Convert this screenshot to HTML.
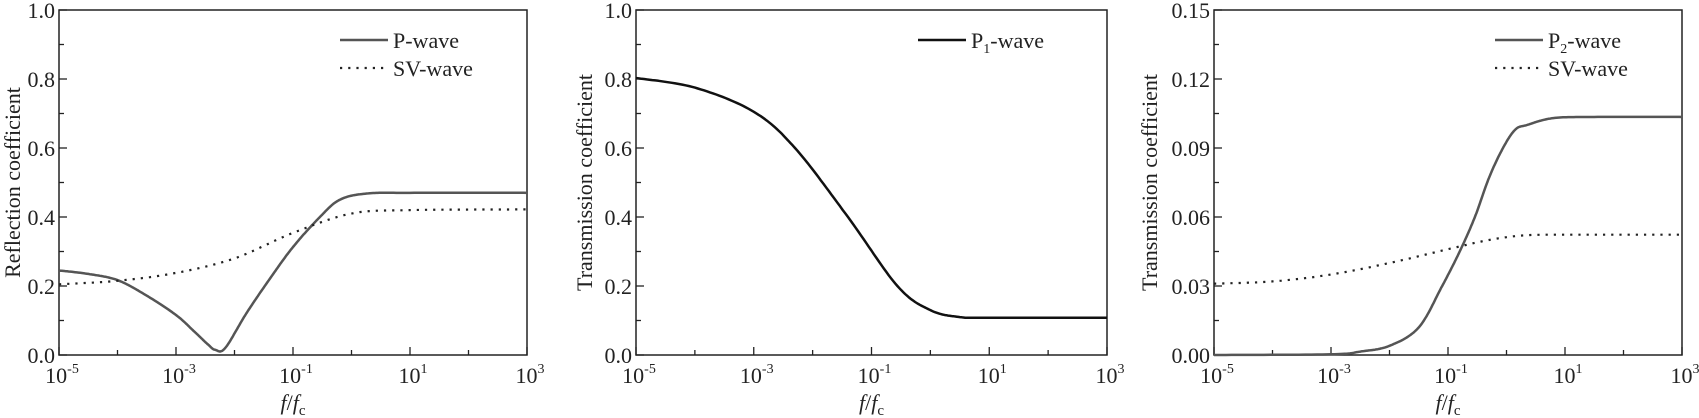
<!DOCTYPE html>
<html><head><meta charset="utf-8"><style>
html,body{margin:0;padding:0;background:#fff;}
svg{display:block;}
text{font-family:"Liberation Serif",serif;fill:#222;}
</style></head><body>
<svg id="s" width="1699" height="418" xmlns="http://www.w3.org/2000/svg"></svg>
<script>
(function(){
const S=document.getElementById('s');let h='';
const TOP=10,BOT=355;
function panel(L,R,ymax,nMaj,fmt,ylab,ylx,series,legend){
  const dx=(R-L)/8, H=BOT-TOP;
  const X=v=>L+(v+5)*dx, Y=v=>BOT-(v/ymax)*H;
  h+=`<rect x="${L}" y="${TOP}" width="${R-L}" height="${H}" fill="none" stroke="#222" stroke-width="1.5"/>`;
  for(let i=0;i<=8;i++){const x=L+i*dx;const len=i%2?5:8;
    h+=`<line x1="${x}" y1="${BOT}" x2="${x}" y2="${BOT-len}" stroke="#222" stroke-width="1.3"/>`;
    if(i%2==0)h+=`<text x="${x+3}" y="${BOT+28}" font-size="22" text-anchor="middle">10<tspan font-size="14" dy="-10">${i-5}</tspan></text>`;}
  for(let j=0;j<=nMaj*2;j++){const y=TOP+j*H/(nMaj*2);const len=j%2?5:8;
    h+=`<line x1="${L}" y1="${y}" x2="${L+len}" y2="${y}" stroke="#222" stroke-width="1.3"/>`;
    if(j%2==0){const v=ymax-j/2*ymax/nMaj;h+=`<text x="${L-4}" y="${y+8}" font-size="22" text-anchor="end">${v.toFixed(fmt)}</text>`;}}
  h+=`<text x="${(L+R)/2}" y="${BOT+55}" font-size="22" text-anchor="middle"><tspan font-style="italic">f</tspan>/<tspan font-style="italic">f</tspan><tspan font-size="15" dy="5">c</tspan></text>`;
  h+=`<text transform="translate(${ylx},${(TOP+BOT)/2}) rotate(-90)" font-size="22" text-anchor="middle">${ylab}</text>`;
  for(const s of series){
    const p=s.pts;let pts=[];
    for(let k=0;k<p.length-1;k++){const p0=p[Math.max(k-1,0)],p1=p[k],p2=p[k+1],p3=p[Math.min(k+2,p.length-1)];
      for(let t=0;t<1;t+=0.05){const t2=t*t,t3=t2*t;
        const f=(a,b,c,d)=>0.5*(2*b+(-a+c)*t+(2*a-5*b+4*c-d)*t2+(-a+3*b-3*c+d)*t3);
        pts.push([X(f(p0[0],p1[0],p2[0],p3[0])),Y(f(p0[1],p1[1],p2[1],p3[1]))]);}}
    const e=p[p.length-1];pts.push([X(e[0]),Y(e[1])]);
    h+=`<polyline points="${pts.map(q=>q[0].toFixed(1)+','+q[1].toFixed(1)).join(' ')}" fill="none" stroke="${s.c}" stroke-width="${s.d?2.2:2.5}" ${s.d?'stroke-dasharray="2.2,6"':''} stroke-linejoin="round"/>`;
  }
  legend.forEach((g,i)=>{const y=40+i*28;
    h+=`<line x1="${g.x}" y1="${y}" x2="${g.x+48}" y2="${y}" stroke="${g.c}" stroke-width="${g.d?2.2:2.5}" ${g.d?'stroke-dasharray="2.2,6"':''}/>`;
    h+=`<text x="${g.x+53}" y="${y+8}" font-size="22">${g.t}</text>`;});
}
panel(59,527,1,5,1,'Reflection coefficient',20,[
 {c:'#555',pts:[[-5,0.245],[-4.5,0.235],[-4,0.217],[-3.5,0.172],[-3,0.116],[-2.7,0.07],[-2.45,0.03],[-2.33,0.015],[-2.16,0.02],[-1.8,0.12],[-1.4,0.22],[-1,0.313],[-0.54,0.40],[-0.2,0.45],[0.26,0.468],[1,0.47],[3,0.47]]},
 {c:'#222',d:1,pts:[[-5,0.205],[-4,0.215],[-3,0.238],[-2,0.28],[-1,0.354],[0,0.41],[1,0.42],[3,0.422]]}
],[{x:340,c:'#555',t:'P-wave'},{x:340,c:'#222',d:1,t:'SV-wave'}]);
panel(636,1107,1,5,1,'Transmission coefficient',592,[
 {c:'#111',pts:[[-5,0.803],[-4,0.775],[-3,0.705],[-2.3,0.6],[-1.4,0.4],[-0.56,0.2],[0,0.13],[0.5,0.11],[1,0.108],[3,0.108]]}
],[{x:918,c:'#111',t:'P<tspan font-size="14" dy="5">1</tspan><tspan dy="-5">-wave</tspan>'}]);
panel(1214,1682,0.15,5,2,'Transmission coefficient',1157,[
 {c:'#555',pts:[[-5,0],[-3,0.0003],[-2.5,0.0015],[-2,0.004],[-1.5,0.012],[-1.1,0.03],[-0.8,0.045],[-0.54,0.06],[-0.3,0.077],[-0.06,0.09],[0.15,0.098],[0.35,0.1],[0.8,0.103],[1.5,0.1035],[3,0.1035]]},
 {c:'#222',d:1,pts:[[-5,0.031],[-4,0.032],[-3,0.035],[-2,0.04],[-1,0.046],[-0.3,0.05],[0.3,0.052],[1,0.0523],[3,0.0523]]}
],[{x:1495,c:'#555',t:'P<tspan font-size="14" dy="5">2</tspan><tspan dy="-5">-wave</tspan>'},{x:1495,c:'#222',d:1,t:'SV-wave'}]);
S.innerHTML=h;
})();
</script>
</body></html>
